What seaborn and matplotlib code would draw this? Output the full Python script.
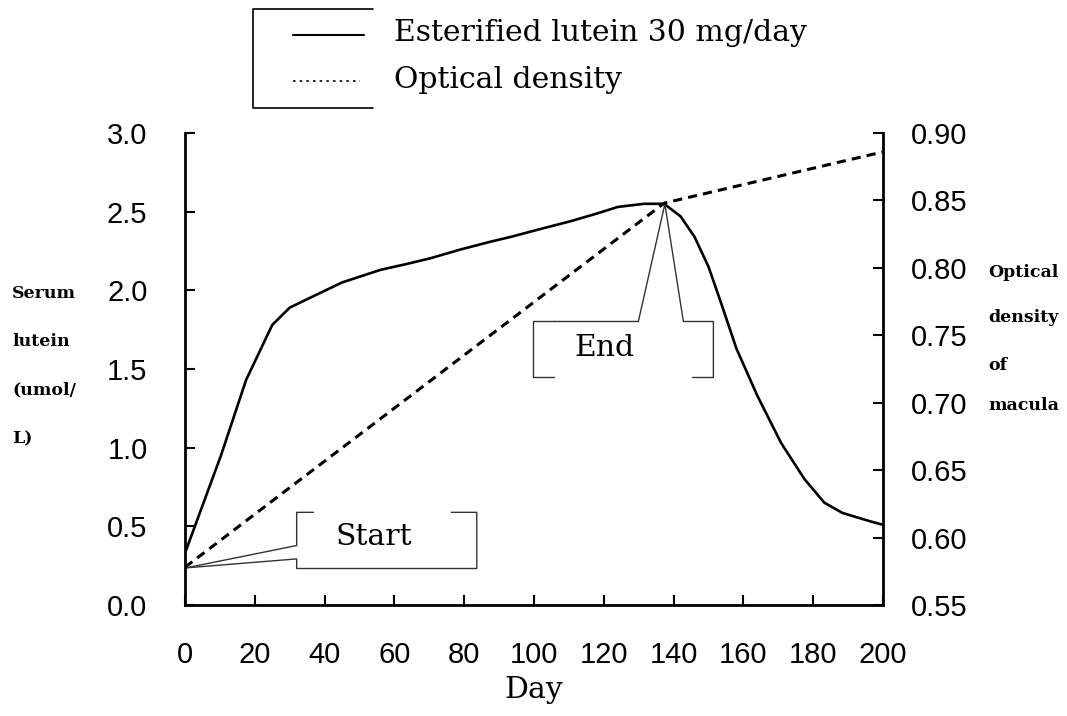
import pandas as pd
import seaborn as sns
import matplotlib.pyplot as plt
from matplotlib.lines import Line2D
from matplotlib.ticker import FormatStrFormatter

sns.set_style("ticks")
plt.rcParams['font.family'] = ['DejaVu Serif']
plt.rcParams.update({'text.color': 'black', 'axes.edgecolor': 'black',
                     'xtick.color': 'black', 'ytick.color': 'black',
                     'axes.labelcolor': 'black'})

# serum lutein (umol/L)
days = [0, 10.3, 17.5, 25, 30, 37, 45, 56, 64, 70.5, 79, 87.7, 93.4, 101, 110.6,
        118.3, 124, 131.6, 137.3, 142, 146, 150, 153.6, 158, 164, 170.8, 177.5,
        183.2, 188.4, 196.6, 200]
serum = [0.33, 0.95, 1.43, 1.78, 1.89, 1.965, 2.05, 2.13, 2.17, 2.205, 2.26, 2.31,
         2.34, 2.385, 2.44, 2.49, 2.53, 2.55, 2.55, 2.47, 2.34, 2.15, 1.92, 1.63,
         1.33, 1.03, 0.80, 0.65, 0.585, 0.53, 0.51]

# optical density of macula
od_days = [0, 137.3, 200]
od = [0.578, 0.848, 0.886]

x_ticks = list(range(0, 201, 20))
y_ticks = [0.0, 0.5, 1.0, 1.5, 2.0, 2.5, 3.0]
y2_ticks = [0.55, 0.60, 0.65, 0.70, 0.75, 0.80, 0.85, 0.90]

left_label = ["Serum", "lutein", "(umol/", "L)"]
right_label = ["Optical", "density", "of", "macula"]
legend_labels = ["Esterified lutein 30 mg/day", "Optical density"]

df_serum = pd.DataFrame({"day": days, "serum": serum})
df_od = pd.DataFrame({"day": od_days, "od": od})

fig = plt.figure(figsize=(10.67, 7.16), dpi=100)
ax = fig.add_axes([185/1067, 111/716, 698/1067, 472/716])
ax2 = ax.twinx()

sns.lineplot(data=df_serum, x="day", y="serum", ax=ax, color="black", lw=1.9)
sns.lineplot(data=df_od, x="day", y="od", ax=ax2, color="black", lw=2.2,
             linestyle=(0, (3, 2)))

ax.set_xlim(0, 200)
ax.set_ylim(0, 3.0)
ax2.set_ylim(0.55, 0.90)
ax.set_xticks(x_ticks)
ax.set_yticks(y_ticks)
ax2.set_yticks(y2_ticks)
ax.yaxis.set_major_formatter(FormatStrFormatter('%.1f'))
ax2.yaxis.set_major_formatter(FormatStrFormatter('%.2f'))
ax.set_xlabel("")
ax.set_ylabel("")
ax2.set_ylabel("")

for a in (ax, ax2):
    a.spines['top'].set_visible(False)
    for s in a.spines.values():
        s.set_linewidth(2.0)
        s.set_color('black')
ax.spines['right'].set_visible(False)
ax2.spines['left'].set_visible(False)
ax2.spines['bottom'].set_visible(False)

tick_kw = dict(direction='in', length=7, width=1.5, labelsize=21,
               labelcolor='black', labelfontfamily='Liberation Sans')
ax.tick_params(axis='y', pad=27, **tick_kw)
ax.tick_params(axis='x', pad=26, **tick_kw)
ax2.tick_params(axis='y', pad=20, **tick_kw)

ax.text(0.5, -0.18, "Day", transform=ax.transAxes, ha='center', va='center',
        fontsize=21.5)

# side labels
for i, t in enumerate(left_label):
    fig.text(12/1067, 1 - (293 + 48.5*i)/716, t, ha='left', va='center',
             fontsize=12.5, fontweight='bold')
right_y = [272, 318, 365, 405]
for t, yy in zip(right_label, right_y):
    fig.text(988/1067, 1 - yy/716, t, ha='left', va='center',
             fontsize=12.5, fontweight='bold')

# callouts
cl = dict(color="#333333", lw=1.0, clip_on=False)
# Start box
ax.plot([0.3, 32, 32, 83.6, 83.6, 76.3], [0.236, 0.293, 0.232, 0.232, 0.589, 0.589], **cl)
ax.plot([0.3, 32, 32, 36.8], [0.236, 0.378, 0.589, 0.589], **cl)
ax.text(54, 0.43, "Start", ha='center', va='center', fontsize=21.5)
# End box
ax.plot([105.8, 99.8, 99.8, 105.8], [1.446, 1.446, 1.802, 1.802], **cl)
ax.plot([105.8, 129.9, 137.5, 142.8, 151.4, 151.4, 145.4],
        [1.802, 1.802, 2.549, 1.802, 1.802, 1.446, 1.446], **cl)
ax.text(120.3, 1.635, "End", ha='center', va='center', fontsize=21.5)

# legend with bracket frame
fx = lambda p: p/1067
fy = lambda p: 1 - p/716
fig.add_artist(Line2D([fx(373), fx(252.7), fx(252.7), fx(373)],
                      [fy(9.3), fy(9.3), fy(108.3), fy(108.3)], color="black", lw=1.2))
fig.add_artist(Line2D([fx(293), fx(364)], [fy(35), fy(35)], color="black", lw=1.5))
fig.add_artist(Line2D([fx(293), fx(360)], [fy(81), fy(81)], color="black", lw=1.2,
                      linestyle=(0, (1.5, 2.5))))
fig.text(fx(394), fy(33), legend_labels[0], ha='left', va='center', fontsize=21.5)
fig.text(fx(394), fy(80), legend_labels[1], ha='left', va='center', fontsize=21.5)

fig.savefig("out.png", dpi=100)
